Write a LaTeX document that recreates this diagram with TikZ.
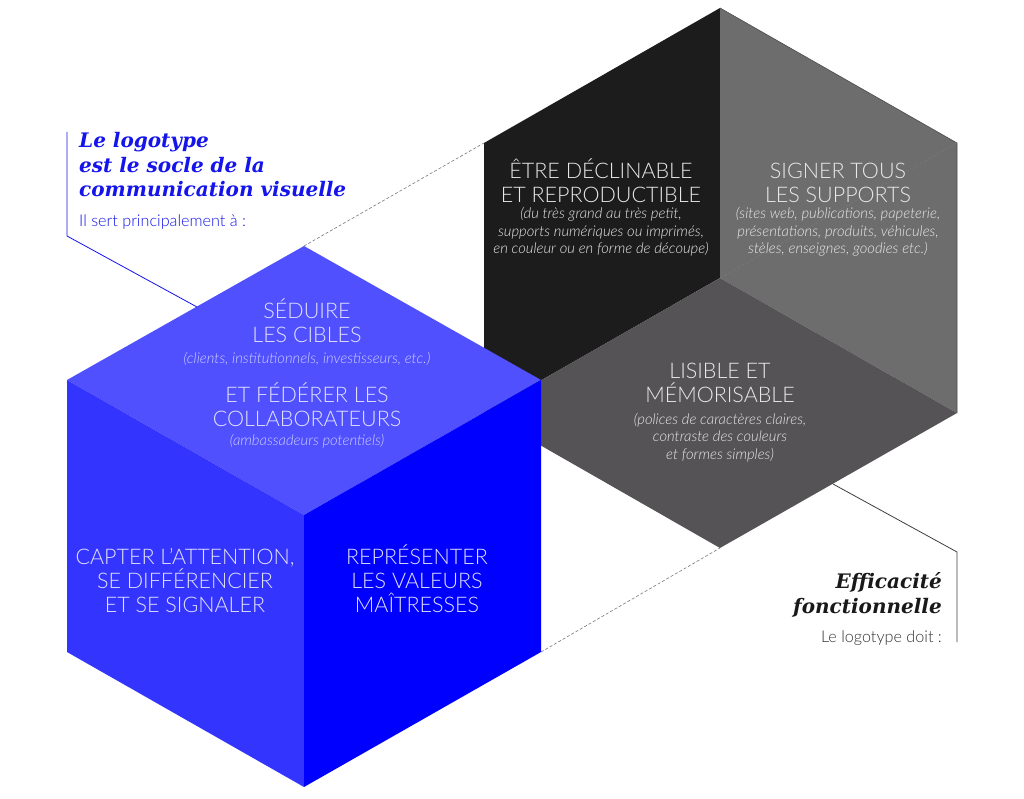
\documentclass[tikz,border=0pt]{standalone}
\usepackage{fontspec}
\IfFontExistsTF{Lato Light}{%
  \IfFontExistsTF{Lato Light Italic}{%
    \newfontfamily\lightf{Lato Light}[ItalicFont={Lato Light Italic}]%
  }{\newfontfamily\lightf{Lato Light}}%
}{\newfontfamily\lightf{Lato}}
\newfontfamily\serif{DejaVu Serif}
\definecolor{bluetop}{RGB}{80,80,255}
\definecolor{blueleft}{RGB}{52,52,255}
\definecolor{blueright}{RGB}{0,0,255}
\definecolor{blackface}{RGB}{28,28,28}
\definecolor{grayright}{RGB}{110,109,110}
\definecolor{graybottom}{RGB}{85,83,85}
\definecolor{bluetxt}{RGB}{225,225,255}
\definecolor{bluesub}{RGB}{205,205,255}
\definecolor{graytxt}{RGB}{232,232,232}
\definecolor{titleblue}{RGB}{20,20,235}
\definecolor{dashgray}{RGB}{120,120,120}
\tikzset{
  headtxt/.style={font=\lightf\fontsize{21.5}{24}\selectfont, align=center, inner sep=0pt, anchor=base},
  subtxt/.style={font=\lightf\itshape\fontsize{14.8}{17.5}\selectfont, align=center, inner sep=0pt, anchor=base},
  titletxt/.style={font=\serif\bfseries\itshape\fontsize{20}{24.5}\selectfont, inner sep=0pt},
  notetxt/.style={font=\lightf\fontsize{16.2}{19}\selectfont, inner sep=0pt},
  hidden/.style={draw=dashgray, dashed, dash pattern=on 3pt off 2pt, line width=0.6pt},
  leader/.style={line width=0.8pt},
}
\begin{document}
\begin{tikzpicture}[x=1pt,y=-1pt]
\useasboundingbox[fill=white] (0,0) rectangle (1024,799);
% gray cube (seen from below)
\coordinate (gT) at (720,8);
\coordinate (gUL) at (484,143);
\coordinate (gUR) at (957,143);
\coordinate (gC) at (720,278);
\coordinate (gLL) at (484,413);
\coordinate (gLR) at (957,413);
\coordinate (gB) at (720,548);
% blue cube
\coordinate (bT) at (304,246);
\coordinate (bUL) at (67,380);
\coordinate (bUR) at (541,380);
\coordinate (bC) at (304,515);
\coordinate (bLL) at (67,652);
\coordinate (bLR) at (541,652);
\coordinate (bB) at (304,787);
% faces of gray cube
\fill[blackface] (gUL) -- (gT) -- (gC) -- (gLL) -- cycle;
\fill[grayright] (gT) -- (gUR) -- (gLR) -- (gC) -- cycle;
\fill[graybottom] (gC) -- (gLR) -- (gB) -- (gLL) -- cycle;
\draw[line width=0.6pt, black!70] (gT) -- (gUR) -- (gLR);
% dashed hidden edges
\draw[hidden] (bT) -- (gUL);
\draw[hidden] (bLR) -- (gB);
\draw[hidden] (gC) -- (gUR);
% faces of blue cube
\fill[bluetop] (bT) -- (bUR) -- (bC) -- (bUL) -- cycle;
\fill[blueleft] (bUL) -- (bC) -- (bB) -- (bLL) -- cycle;
\fill[blueright] (bC) -- (bUR) -- (bLR) -- (bB) -- cycle;
% leader lines
\coordinate (lb1) at (67,132);
\coordinate (lb2) at (67,236);
\coordinate (lb3) at (197,307);
\draw[leader, titleblue] (lb1) -- (lb2) -- (lb3);
\coordinate (lg1) at (833,484);
\coordinate (lg2) at (957,552);
\coordinate (lg3) at (957,642);
\draw[leader, black!75] (lg1) -- (lg2) -- (lg3);
% blue cube texts (anchor = baseline of last line)
\node[headtxt, text=bluetxt] (seduire) at (307,342) {SÉDUIRE\\LES CIBLES};
\node[subtxt, text=bluesub] (clients) at (307,363) {(clients, institutionnels, investisseurs, etc.)};
\node[headtxt, text=bluetxt] (federer) at (307,426) {ET FÉDÉRER LES\\COLLABORATEURS};
\node[subtxt, text=bluesub] (ambass) at (307,445) {(ambassadeurs potentiels)};
\node[headtxt, text=bluetxt] (capter) at (185,612) {CAPTER L’ATTENTION,\\SE DIFFÉRENCIER\\ET SE SIGNALER};
\node[headtxt, text=bluetxt] (repr) at (417,612) {REPRÉSENTER\\LES VALEURS\\MAÎTRESSES};
% gray cube texts
\node[headtxt, text=graytxt] (etre) at (601,203) {ÊTRE DÉCLINABLE\\ET REPRODUCTIBLE};
\node[subtxt, text=graytxt] (etresub) at (601,254) {(du très grand au très petit,\\supports numériques ou imprimés,\\en couleur ou en forme de découpe)};
\node[headtxt, text=graytxt] (signer) at (838,203) {SIGNER TOUS\\LES SUPPORTS};
\node[subtxt, text=graytxt] (signersub) at (838,254) {(sites web, publications, papeterie,\\présentations, produits, véhicules,\\stèles, enseignes, goodies etc.)};
\node[headtxt, text=graytxt] (lisible) at (720,402) {LISIBLE ET\\MÉMORISABLE};
\node[subtxt, text=graytxt] (lisiblesub) at (720,459) {(polices de caractères claires,\\contraste des couleurs\\et formes simples)};
% annotations
\node[titletxt, text=titleblue, anchor=base west, align=left] (title) at (79,197) {Le logotype\\est le socle de la\\communication visuelle};
\node[notetxt, text=titleblue, anchor=base west] (sert) at (79,227) {Il sert principalement à :};
\node[titletxt, text=black!90, anchor=base east, align=right] (effic) at (942,613) {Efficacité\\fonctionnelle};
\node[notetxt, text=black!80, anchor=base east] (doit) at (942,642) {Le logotype doit :};
\end{tikzpicture}
\end{document}
